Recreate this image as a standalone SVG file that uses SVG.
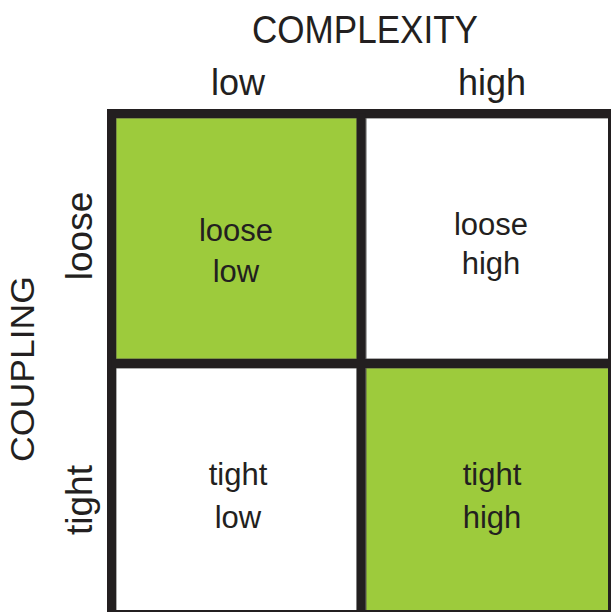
<svg xmlns="http://www.w3.org/2000/svg" width="611" height="612" viewBox="0 0 611 612">
<style>
text{font-family:"Liberation Sans",Arial,Helvetica,sans-serif;fill:#231f20;text-anchor:middle}
.hd{font-size:36px}
.cl{font-size:31px}
.green{fill:#9dcb3c;stroke:#5a5a4a;stroke-width:1}
.white{fill:#ffffff;stroke:#5a5a5a;stroke-width:1}
.frame{fill:none;stroke:#231f20;stroke-width:9}
</style>
<rect width="611" height="612" fill="#ffffff"/>
<text class="hd" x="365" y="43" textLength="226" lengthAdjust="spacingAndGlyphs" style="font-size:38px">COMPLEXITY</text>
<text class="hd" x="238" y="95">low</text>
<text class="hd" x="492" y="95">high</text>
<text class="hd" transform="translate(34,369) rotate(-90)" textLength="186" lengthAdjust="spacingAndGlyphs" style="font-size:34px">COUPLING</text>
<text class="hd" transform="translate(92,236) rotate(-90)" style="font-size:37px">loose</text>
<text class="hd" transform="translate(92,500) rotate(-90)" style="font-size:37px">tight</text>
<g id="cell-loose-low">
<rect class="green" x="116" y="118" width="241" height="241"/>
<text class="cl" x="236" y="240.5">loose</text>
<text class="cl" x="236" y="281.5">low</text>
</g>
<g id="cell-loose-high">
<rect class="white" x="366" y="118" width="245" height="241"/>
<text class="cl" x="491" y="235">loose</text>
<text class="cl" x="491" y="274">high</text>
</g>
<g id="cell-tight-low">
<rect class="white" x="116" y="368" width="241" height="244"/>
<text class="cl" x="238" y="485">tight</text>
<text class="cl" x="238" y="528">low</text>
</g>
<g id="cell-tight-high">
<rect class="green" x="366" y="368" width="245" height="244"/>
<text class="cl" x="492" y="485">tight</text>
<text class="cl" x="492" y="528">high</text>
</g>
<g id="grid">
<rect class="frame" x="111.5" y="113.5" width="501" height="501"/>
<line class="frame" x1="361.2" y1="113.5" x2="361.2" y2="614"/>
<line class="frame" x1="111.5" y1="363.4" x2="612" y2="363.4"/>
</g>
</svg>
